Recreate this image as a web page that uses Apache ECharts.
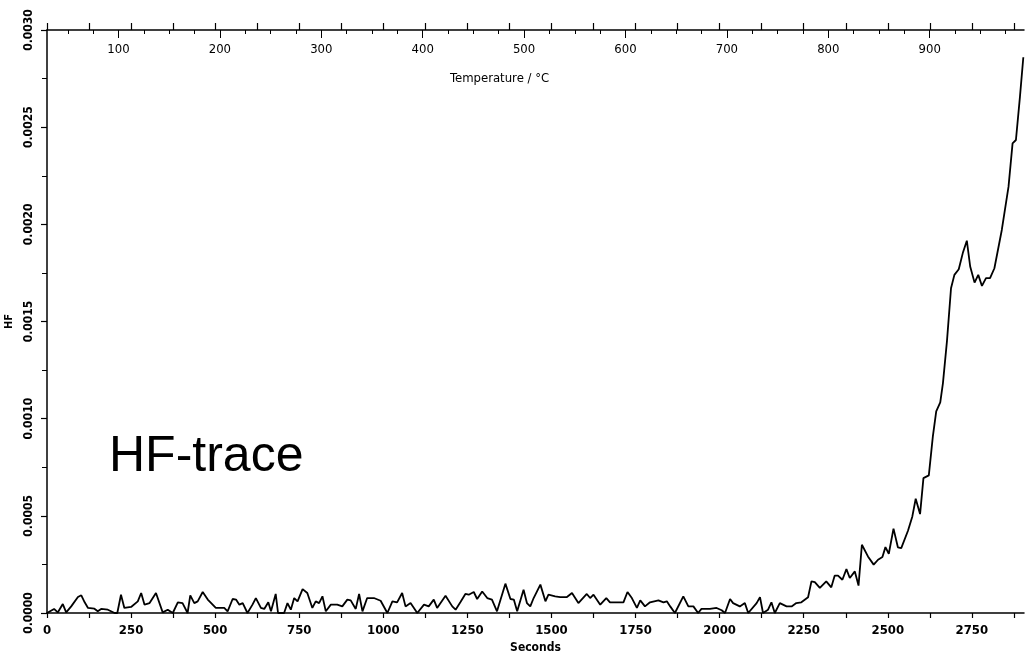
<!DOCTYPE html>
<html>
<head>
<meta charset="utf-8">
<script src="https://cdn.jsdelivr.net/npm/echarts@6/dist/echarts.min.js"></script>
<style>
  html, body { margin: 0; padding: 0; background: #fff; }
  #chart { width: 1026px; height: 652px; }
</style>
</head>
<body>
<div id="chart"></div>
<script>
  // time (s) and HF signal
  const seconds = [0, 21, 32, 47, 57, 72, 92, 102, 112, 122, 141, 151, 161, 181, 201, 209, 220, 230, 250, 270, 280, 290, 305, 324, 344, 359, 374, 389, 403, 418, 426, 438, 448, 463, 478, 502, 527, 537, 552, 562, 572, 582, 596, 611, 621, 636, 646, 658, 666, 680, 687, 705, 715, 725, 735, 745, 760, 774, 789, 799, 809, 819, 829, 844, 863, 878, 893, 903, 918, 928, 938, 952, 972, 992, 1012, 1027, 1041, 1056, 1066, 1081, 1101, 1121, 1135, 1150, 1160, 1185, 1205, 1215, 1229, 1244, 1254, 1269, 1279, 1294, 1309, 1323, 1338, 1363, 1378, 1388, 1398, 1417, 1427, 1437, 1447, 1467, 1482, 1491, 1511, 1526, 1546, 1561, 1580, 1605, 1615, 1625, 1645, 1663, 1674, 1714, 1726, 1739, 1754, 1764, 1778, 1793, 1818, 1833, 1843, 1853, 1867, 1892, 1907, 1922, 1936, 1946, 1971, 1991, 2006, 2016, 2031, 2040, 2060, 2075, 2085, 2110, 2120, 2129, 2144, 2154, 2164, 2179, 2199, 2214, 2228, 2243, 2263, 2273, 2283, 2298, 2317, 2332, 2342, 2352, 2365, 2377, 2387, 2402, 2413, 2423, 2441, 2458, 2471, 2484, 2493, 2503, 2517, 2530, 2540, 2560, 2573, 2583, 2596, 2606, 2622, 2634, 2644, 2656, 2664, 2676, 2688, 2698, 2711, 2723, 2735, 2745, 2758, 2769, 2780, 2792, 2804, 2817, 2839, 2859, 2871, 2881, 2893, 2903]
  const hf = [0, 0.000021, 0.000003, 0.000046, 0.000003, 0.000034, 0.000082, 0.000091, 0.000055, 0.000026, 0.000022, 0.0000086, 0.000021, 0.000017, 0, 0, 0.000094, 0.000026, 0.000031, 0.00006, 0.000103, 0.000043, 0.000051, 0.000103, 0.000003, 0.000017, 0, 0.000055, 0.000051, 0, 0.000091, 0.000051, 0.00006, 0.000108, 0.000069, 0.000026, 0.000026, 0.0000086, 0.000072, 0.000069, 0.000043, 0.000051, 0, 0.000043, 0.000077, 0.000026, 0.000021, 0.000055, 0.0000086, 0.000098, 0, 0, 0.000051, 0.000017, 0.000077, 0.00006, 0.000123, 0.000103, 0.000026, 0.00006, 0.000051, 0.000086, 0.0000086, 0.000043, 0.000043, 0.000034, 0.000069, 0.000065, 0.000021, 0.000098, 0.0000086, 0.000077, 0.000077, 0.000063, 0, 0.00006, 0.000055, 0.000103, 0.000034, 0.000051, 0, 0.000043, 0.000034, 0.000069, 0.000026, 0.000089, 0.000034, 0.000017, 0.000055, 0.000098, 0.000094, 0.000108, 0.000072, 0.000111, 0.000077, 0.000069, 0.0000086, 0.000151, 0.000072, 0.000069, 0.0000086, 0.00012, 0.000051, 0.000034, 0.000077, 0.000146, 0.00006, 0.000094, 0.000086, 0.000082, 0.000082, 0.000103, 0.000051, 0.000098, 0.000077, 0.000094, 0.000043, 0.000077, 0.000055, 0.000055, 0.000108, 0.000077, 0.000026, 0.000065, 0.000034, 0.000055, 0.000065, 0.000055, 0.00006, 0.000034, 0, 0.000086, 0.000034, 0.000034, 0, 0.000021, 0.000021, 0.000026, 0.000014, 0, 0.000072, 0.000051, 0.000034, 0.000051, 0, 0.000051, 0.000082, 0, 0.000017, 0.000055, 0, 0.000051, 0.000034, 0.000034, 0.000051, 0.000055, 0.000081, 0.000163, 0.000159, 0.000129, 0.000163, 0.000132, 0.000192, 0.000192, 0.000171, 0.000226, 0.00018, 0.000214, 0.000141, 0.000351, 0.000291, 0.000249, 0.000274, 0.000288, 0.000339, 0.000305, 0.000434, 0.000338, 0.000334, 0.000423, 0.000497, 0.000588, 0.000509, 0.000694, 0.000708, 0.000909, 0.001037, 0.001084, 0.001183, 0.0014, 0.001671, 0.00174, 0.001769, 0.001852, 0.001916, 0.001783, 0.0017, 0.00174, 0.001683, 0.001723, 0.001723, 0.001774, 0.001971, 0.002194, 0.002417, 0.002434, 0.002657, 0.00286]

  // axis ticks / labels
  const secTicks = [0, 125, 250, 375, 500, 625, 750, 875, 1000, 1125, 1250, 1375, 1500, 1625, 1750, 1875, 2000, 2125, 2250, 2375, 2500, 2625, 2750, 2875]
  const secLabels = [0, 250, 500, 750, 1000, 1250, 1500, 1750, 2000, 2250, 2500, 2750]
  const tempTicks = [50, 75, 100, 125, 150, 175, 200, 225, 250, 275, 300, 325, 350, 375, 400, 425, 450, 475, 500, 525, 550, 575, 600, 625, 650, 675, 700, 725, 750, 775, 800, 825, 850, 875, 900, 925, 950, 975]
  const tempLabels = [100, 200, 300, 400, 500, 600, 700, 800, 900]

  const cond = '"DejaVu Sans Condensed", "DejaVu Sans", sans-serif'
  const black = '#000'

  let chart = echarts.init(document.getElementById('chart'))
  chart.setOption({
    animation: false,
    backgroundColor: '#fff',
    grid: {left: 47, right: 2, top: 30, bottom: 39, containLabel: false, outerBoundsMode: 'none'},
    graphic: [
      {
        type: 'text', left: 450, top: 72,
        style: {text: 'Temperature / °C', font: '13px ' + cond, fill: black}
      },
      {
        type: 'text', left: 109, top: 432,
        style: {text: 'HF-trace', font: '50px "Liberation Sans", Arial, sans-serif', fill: black}
      }
    ],
    xAxis: [
      {
        type: 'value', position: 'bottom', min: 0, max: 2905,
        name: 'Seconds', nameLocation: 'middle', nameGap: 28,
        nameTextStyle: {fontFamily: cond, fontSize: 12, fontWeight: 'bold', color: black},
        axisLine: {lineStyle: {color: black, width: 1.5}},
        axisTick: {customValues: secTicks, length: 5, lineStyle: {color: black, width: 1.2}},
        axisLabel: {
          customValues: secLabels, margin: 11, fontFamily: cond, fontSize: 13, fontWeight: 'bold', color: black,
          formatter: function (v) { return String(v) }
        },
        splitLine: {show: false}
      },
      {
        // seconds ticks on the top edge, pointing up
        type: 'value', position: 'top', min: 0, max: 2905,
        axisLine: {lineStyle: {color: black, width: 1.5}},
        axisTick: {customValues: secTicks, length: 7, lineStyle: {color: black, width: 1.2}},
        axisLabel: {show: false},
        splitLine: {show: false}
      },
      {
        // temperature minor ticks
        type: 'value', position: 'top', min: 29.5, max: 993,
        axisLine: {show: false},
        axisTick: {inside: true, customValues: tempTicks, length: 4, lineStyle: {color: black, width: 1}},
        axisLabel: {show: false},
        splitLine: {show: false}
      },
      {
        // temperature major ticks and labels
        type: 'value', position: 'top', min: 29.5, max: 993,
        axisLine: {show: false},
        axisTick: {inside: true, customValues: tempLabels, length: 8, lineStyle: {color: black, width: 1}},
        axisLabel: {
          inside: true, customValues: tempLabels, margin: 13, fontFamily: cond, fontSize: 13, color: black,
          formatter: function (v) { return String(v) }
        },
        splitLine: {show: false}
      }
    ],
    yAxis: {
      type: 'value', min: 0, max: 0.003, interval: 0.0005,
      name: 'HF', nameLocation: 'middle', nameRotate: 90, nameGap: 27,
      nameTextStyle: {fontFamily: cond, fontSize: 11, fontWeight: 'bold', color: black},
      axisLine: {show: true, lineStyle: {color: black, width: 1.5}},
      axisTick: {show: true, length: 6, lineStyle: {color: black, width: 1.2}},
      minorTick: {show: true, splitNumber: 2, length: 5, lineStyle: {color: black, width: 1}},
      minorSplitLine: {show: false},
      splitLine: {show: false},
      axisLabel: {
        rotate: 90, margin: 12, fontFamily: cond, fontSize: 12, fontWeight: 'bold', color: black,
        formatter: function (v) { return v.toFixed(4) }
      }
    },
    series: [
      {
        type: 'line',
        xAxisIndex: 0,
        showSymbol: false,
        data: seconds.map(function (s, i) { return [s, hf[i]] }),
        lineStyle: {color: black, width: 1.8},
        z: 5
      }
    ]
  })
</script>
</body>
</html>
